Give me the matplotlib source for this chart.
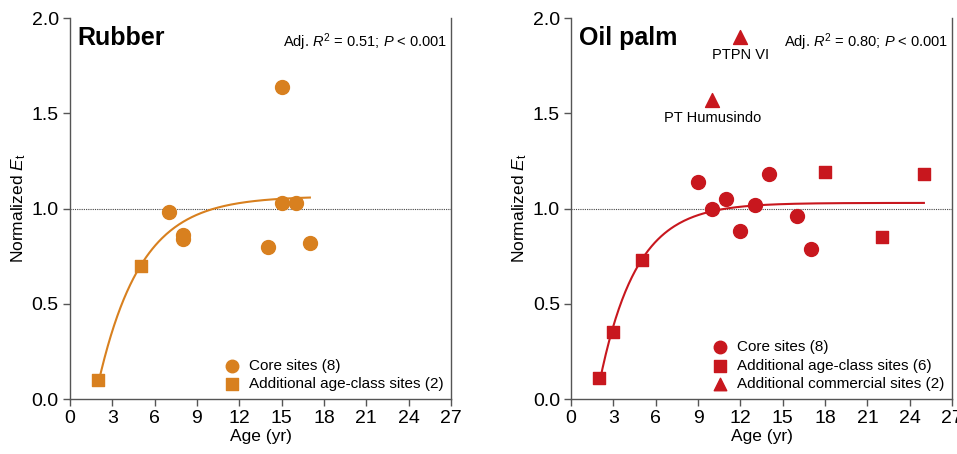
import numpy as np
import matplotlib
matplotlib.use("Agg")
from matplotlib import pyplot as plt

plt.rcParams['font.family'] = ['Liberation Sans', 'DejaVu Sans']
plt.rcParams['mathtext.fontset'] = 'custom'
plt.rcParams['mathtext.it'] = 'Liberation Sans:italic'
plt.rcParams['mathtext.rm'] = 'Liberation Sans'

# Rubber
rub_core_age = [7, 8, 8, 14, 15, 15, 16, 17]
rub_core_et = [0.98, 0.86, 0.84, 0.80, 1.64, 1.03, 1.03, 0.82]
rub_add_age = [2, 5]
rub_add_et = [0.10, 0.70]
rub_fit = (1.065, 1.91, 0.331)   # a - b*exp(-k*age)
rub_fit_range = (2, 17)

# Oil palm
oil_core_age = [9, 10, 11, 12, 13, 14, 16, 17]
oil_core_et = [1.14, 1.00, 1.05, 0.88, 1.02, 1.18, 0.96, 0.79]
oil_add_age = [2, 3, 5, 18, 22, 25]
oil_add_et = [0.11, 0.35, 0.73, 1.19, 0.85, 1.18]
oil_com_age = [10, 12]
oil_com_et = [1.57, 1.90]
oil_com_names = ['PT Humusindo', 'PTPN VI']
oil_fit = (1.03, 2.05, 0.385)
oil_fit_range = (2, 25)

ORANGE = '#D8801F'
RED = '#C8171E'
GREY = '#555555'

fig = plt.figure(figsize=(9.57, 4.54), dpi=100)
ax1 = fig.add_axes([0.0731, 0.121, 0.3982, 0.839])
ax2 = fig.add_axes([0.5967, 0.121, 0.3982, 0.839])


def style(ax):
    ax.set_xlim(0, 27)
    ax.set_ylim(0, 2.0)
    ax.set_xticks(range(0, 28, 3))
    ax.set_yticks([0, 0.5, 1.0, 1.5, 2.0])
    ax.set_yticklabels(['0.0', '0.5', '1.0', '1.5', '2.0'])
    ax.spines['top'].set_visible(False)
    for s in ['left', 'right', 'bottom']:
        ax.spines[s].set_color(GREY)
        ax.spines[s].set_linewidth(1.0)
    ax.tick_params(colors=GREY, labelcolor='black', labelsize=14, length=5, width=1,
                   pad=3)
    ax.axhline(1.0, color='#444444', lw=0.8, ls=(0, (1, 1)), zorder=1)
    ax.set_xlabel('Age (yr)', fontsize=12.5, labelpad=1)
    ax.set_ylabel('Normalized $\\mathit{E}_{\\mathrm{t}}$', fontsize=12.5, labelpad=3)


def fit_line(ax, params, rng, color):
    a, b, k = params
    x = np.linspace(rng[0], rng[1], 200)
    ax.plot(x, a - b * np.exp(-k * x), color=color, lw=1.5, zorder=2)


# Rubber panel
style(ax1)
fit_line(ax1, rub_fit, rub_fit_range, ORANGE)
ax1.scatter(rub_core_age, rub_core_et, s=100, marker='o', color=ORANGE, zorder=3,
            label='Core sites (8)')
ax1.scatter(rub_add_age, rub_add_et, s=85, marker='s', color=ORANGE, zorder=3,
            label='Additional age-class sites (2)')
ax1.text(0.02, 0.98, 'Rubber', transform=ax1.transAxes, fontsize=18,
         fontweight='bold', va='top', ha='left')
ax1.text(0.99, 0.965, 'Adj. $\\mathit{R}^2$ = 0.51; $\\mathit{P}$ < 0.001',
         transform=ax1.transAxes, fontsize=10.5, va='top', ha='right')
ax1.legend(loc='lower right', frameon=False, fontsize=11, handletextpad=0.5,
           borderaxespad=0.1, labelspacing=0.3, handlelength=1.2, markerscale=0.9)

# Oil palm panel
style(ax2)
fit_line(ax2, oil_fit, oil_fit_range, RED)
ax2.scatter(oil_core_age, oil_core_et, s=100, marker='o', color=RED, zorder=3,
            label='Core sites (8)')
ax2.scatter(oil_add_age, oil_add_et, s=85, marker='s', color=RED, zorder=3,
            label='Additional age-class sites (6)')
ax2.scatter(oil_com_age, oil_com_et, s=100, marker='^', color=RED, zorder=3,
            label='Additional commercial sites (2)')
for xa, ya, name in zip(oil_com_age, oil_com_et, oil_com_names):
    ax2.annotate(name, (xa, ya), xytext=(0, -8), textcoords='offset points',
                 ha='center', va='top', fontsize=10.5)
ax2.text(0.02, 0.98, 'Oil palm', transform=ax2.transAxes, fontsize=18,
         fontweight='bold', va='top', ha='left')
ax2.text(0.99, 0.965, 'Adj. $\\mathit{R}^2$ = 0.80; $\\mathit{P}$ < 0.001',
         transform=ax2.transAxes, fontsize=10.5, va='top', ha='right')
ax2.legend(loc='lower right', frameon=False, fontsize=11, handletextpad=0.5,
           borderaxespad=0.1, labelspacing=0.3, handlelength=1.2, markerscale=0.9)

fig.savefig('out.png', dpi=100)
